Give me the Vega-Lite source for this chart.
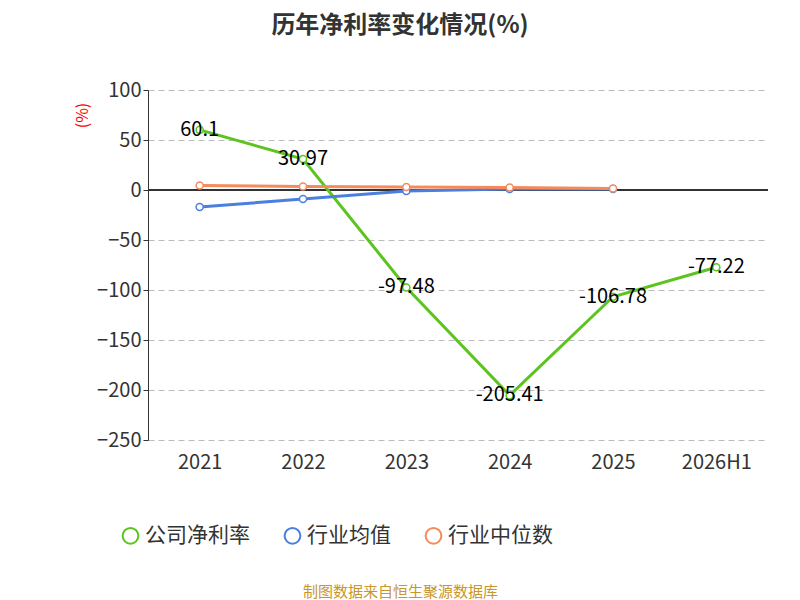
{
  "$schema": "https://vega.github.io/schema/vega-lite/v6.json",
  "width": 620,
  "height": 350,
  "autosize": "none",
  "padding": {"left": 148, "top": 90, "right": 32, "bottom": 160},
  "title": {"text": "历年净利率变化情况(%)", "fontSize": 24, "fontWeight": "bold", "color": "#333", "anchor": "middle", "offset": 42, "dx": -58, "font": "Noto Sans CJK SC"},
  "config": {"font": "Noto Sans CJK SC", "view": {"stroke": null}},
  "data": {"values": [
    {"year": "2021", "series": "公司净利率", "v": 60.1},
    {"year": "2022", "series": "公司净利率", "v": 30.97},
    {"year": "2023", "series": "公司净利率", "v": -97.48},
    {"year": "2024", "series": "公司净利率", "v": -205.41},
    {"year": "2025", "series": "公司净利率", "v": -106.78},
    {"year": "2026H1", "series": "公司净利率", "v": -77.22},
    {"year": "2021", "series": "行业均值", "v": -17},
    {"year": "2022", "series": "行业均值", "v": -9},
    {"year": "2023", "series": "行业均值", "v": -1},
    {"year": "2024", "series": "行业均值", "v": 1},
    {"year": "2025", "series": "行业均值", "v": 1},
    {"year": "2021", "series": "行业中位数", "v": 4.5},
    {"year": "2022", "series": "行业中位数", "v": 3.5},
    {"year": "2023", "series": "行业中位数", "v": 3},
    {"year": "2024", "series": "行业中位数", "v": 2.5},
    {"year": "2025", "series": "行业中位数", "v": 1.5}
  ]},
  "encoding": {
    "x": {"field": "year", "type": "ordinal", "scale": {"paddingInner": 0, "paddingOuter": 0},
      "axis": {"domain": false, "ticks": false, "labelAngle": 0, "labelFontSize": 20, "labelColor": "#333", "labelPadding": 12,
        "title": "制图数据来自恒生聚源数据库", "titleColor": "#c8962a", "titleFontSize": 15, "titleFontWeight": "normal", "titlePadding": 112, "titleX": 252}},
    "y": {"field": "v", "type": "quantitative", "scale": {"domain": [-250, 100], "nice": false},
      "axis": {"values": [-250, -200, -150, -100, -50, 0, 50, 100], "labelFontSize": 20, "labelColor": "#333", "domainColor": "#333", "tickColor": "#333",
        "gridDash": [6, 4], "gridColor": "#bbb", "title": "(%)", "titleColor": "red", "titleFontSize": 16, "titleFontWeight": "normal", "titleX": -58, "titleY": 25}},
    "color": {"field": "series", "type": "nominal",
      "scale": {"domain": ["公司净利率", "行业均值", "行业中位数"], "range": ["#5cc41e", "#4a7fe0", "#f58a5c"]},
      "legend": {"title": null, "orient": "none", "legendX": -28, "legendY": 435, "direction": "horizontal", "labelFontSize": 21, "labelColor": "#333", "symbolSize": 250, "symbolStrokeWidth": 2, "columnPadding": 30, "symbolType": "circle", "symbolFillColor": "white"}}
  },
  "layer": [
    {"mark": {"type": "rule", "color": "#333"}, "encoding": {"y": {"datum": 0}, "x": null, "color": null}},
    {"mark": {"type": "line", "strokeWidth": 3}},
    {"mark": {"type": "point", "filled": false, "fill": "white", "size": 50, "strokeWidth": 1.5, "opacity": 1}},
    {"transform": [{"filter": "datum.series == '公司净利率'"}],
      "mark": {"type": "text", "fontSize": 20, "color": "black", "baseline": "middle"},
      "encoding": {"text": {"field": "v"}, "color": null}}
  ]
}
